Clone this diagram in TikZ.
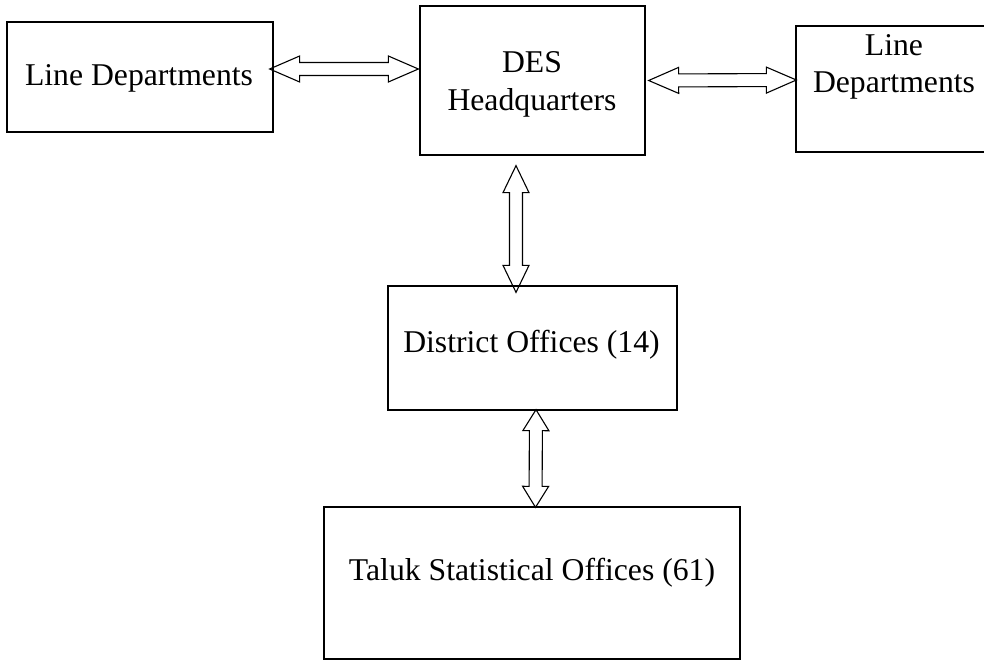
\documentclass[tikz,border=0pt]{standalone}
\usepackage{fontspec}
\setmainfont{Liberation Serif}
\usetikzlibrary{calc}

\tikzset{
  dblarrow/.style={line width=1.1pt, line join=miter, to path={
    -- ($(\tikztostart)!#1!(\tikztotarget)!13pt!90:(\tikztotarget)$)
    -- ($(\tikztostart)!#1!(\tikztotarget)!6.5pt!90:(\tikztotarget)$)
    -- ($(\tikztotarget)!#1!(\tikztostart)!6.5pt!-90:(\tikztostart)$)
    -- ($(\tikztotarget)!#1!(\tikztostart)!13pt!-90:(\tikztostart)$)
    -- (\tikztotarget)
    -- ($(\tikztotarget)!#1!(\tikztostart)!13pt!90:(\tikztostart)$)
    -- ($(\tikztotarget)!#1!(\tikztostart)!6.5pt!90:(\tikztostart)$)
    -- ($(\tikztostart)!#1!(\tikztotarget)!6.5pt!-90:(\tikztotarget)$)
    -- ($(\tikztostart)!#1!(\tikztotarget)!13pt!-90:(\tikztotarget)$)
    -- cycle}},
  dblarrow/.default=30pt
}

\begin{document}
\begin{tikzpicture}[x=1pt,y=-1pt]
    \tikzstyle{box}=[rectangle, draw, line width=1.3pt, inner sep=0pt]
    \tikzstyle{txt}=[anchor=base, align=center, inner sep=0pt, font=\fontsize{31.7}{37.5}\selectfont]
    \useasboundingbox (0,0) rectangle (984,661);

    % boxes
    \node[box, minimum width=266pt, minimum height=110pt] (lline) at (140,77)    {};
    \node[box, minimum width=225pt, minimum height=149pt] (deshq) at (532.5,80.5) {};
    \node[box, minimum width=196pt, minimum height=126pt] (rline) at (894,89)    {};
    \node[box, minimum width=289pt, minimum height=124pt] (dist)  at (532.5,348) {};
    \node[box, minimum width=416pt, minimum height=152pt] (taluk) at (532,583)   {};

    % texts (base = last line)
    \node[txt] (lline-txt) at (139,85)   {Line Departments};
    \node[txt] (deshq-txt) at (532,110)  {DES\\Headquarters};
    \node[txt] (rline-txt) at (894,92.5) {Line\\Departments};
    \node[txt] (dist-txt)  at (531.5,352) {District Offices (14)};
    \node[txt] (taluk-txt) at (532,580)  {Taluk Statistical Offices (61)};

    % arrow ends
    \coordinate (a1) at ([xshift=-4pt,yshift=8pt]lline.east);
    \coordinate (a2) at ([xshift=-1pt,yshift=11.5pt]deshq.west);
    \coordinate (b1) at ([xshift=3pt]deshq.east);
    \coordinate (b2) at ([xshift=1pt,yshift=9pt]rline.west);
    \coordinate (c1) at ([xshift=-16.5pt,yshift=-10pt]deshq.south);
    \coordinate (c2) at ([xshift=-16.5pt,yshift=-7pt]dist.north);
    \coordinate (d1) at ([xshift=3.5pt,yshift=1pt]dist.south);
    \coordinate (d2) at ([xshift=3.5pt,yshift=-1pt]taluk.north);

    \draw[dblarrow] (a1) to (a2);
    \draw[dblarrow] (b1) to (b2);
    \draw[dblarrow=27pt] (c1) to (c2);
    \draw[dblarrow=21pt] (d1) to (d2);

\end{tikzpicture}
\end{document}
